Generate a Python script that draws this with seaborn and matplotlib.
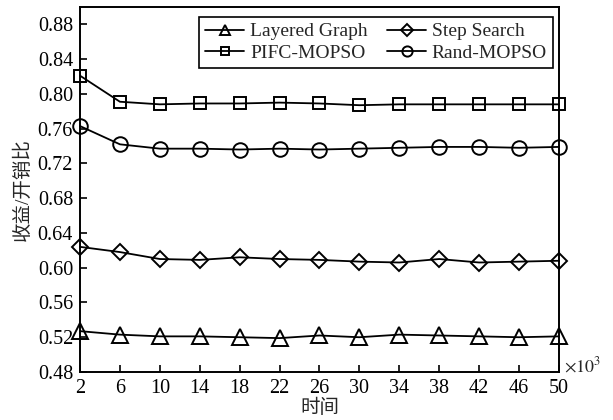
import matplotlib
matplotlib.use('Agg')
import matplotlib.pyplot as plt
import pandas as pd
import seaborn as sns

# time in units of 10^3
time_k = [2, 6, 10, 14, 18, 22, 26, 30, 34, 38, 42, 46, 50]

layered_graph = [0.527, 0.523, 0.521, 0.521, 0.520, 0.519, 0.522, 0.520, 0.523, 0.522, 0.521, 0.520, 0.521]
step_search = [0.624, 0.618, 0.610, 0.609, 0.612, 0.610, 0.609, 0.607, 0.606, 0.610, 0.606, 0.607, 0.608]
pifc_mopso = [0.821, 0.791, 0.788, 0.789, 0.789, 0.790, 0.789, 0.787, 0.788, 0.788, 0.788, 0.788, 0.788]
rand_mopso = [0.763, 0.742, 0.737, 0.737, 0.736, 0.737, 0.736, 0.737, 0.738, 0.739, 0.739, 0.738, 0.739]

y_ticks = [0.48, 0.52, 0.56, 0.60, 0.64, 0.68, 0.72, 0.76, 0.80, 0.84, 0.88]

df = pd.DataFrame({
    'time': time_k,
    'Layered Graph': layered_graph,
    'Step Search': step_search,
    'PIFC-MOPSO': pifc_mopso,
    'Rand-MOPSO': rand_mopso,
})

sns.set_style('ticks')
plt.rcParams['font.family'] = ['Liberation Serif', 'Noto Sans CJK SC']
plt.rcParams['mathtext.fontset'] = 'stix'

fig = plt.figure(figsize=(6.13, 4.2), dpi=100)
ax = fig.add_axes([0.1305, 0.1143, 0.7814, 0.869])

# legend order: column-wise fill gives rows (LG, SS) / (PIFC, Rand)
series = [('Layered Graph', '^'), ('PIFC-MOPSO', 's'),
          ('Step Search', 'D'), ('Rand-MOPSO', 'o')]
sizes = {'^': 11, 's': 9, 'D': 8.5, 'o': 10.5}
for name, mk in series:
    sns.lineplot(data=df, x='time', y=name, ax=ax, label=name,
                 color='black', linewidth=1.3, marker=mk,
                 markersize=sizes[mk], markerfacecolor='none',
                 markeredgecolor='black', markeredgewidth=1.4,
                 clip_on=False, zorder=3)

ax.set_xlim(2, 50)
ax.set_ylim(0.48, 0.90)
ax.set_xticks(time_k)
ax.set_yticks(y_ticks)
ax.set_yticklabels([f'{v:.2f}' for v in y_ticks])

for s in ax.spines.values():
    s.set_linewidth(1.4)
    s.set_color('black')
ax.tick_params(direction='in', length=5, width=1.2, labelsize=14.5,
               colors='black')
ax.tick_params(axis='x', pad=5)
ax.tick_params(axis='y', pad=5)

ax.set_xlabel('时间', fontsize=14, labelpad=0.5)
ax.set_ylabel('收益/开销比', fontsize=14, labelpad=4)
ax.text(1.01, 0.015, r'$\times 10^3$', transform=ax.transAxes,
        fontsize=13, ha='left', va='center')

leg = ax.legend(ncol=2, loc='upper right', bbox_to_anchor=(0.987, 0.973),
                fontsize=14, frameon=True,
                fancybox=False, edgecolor='black', framealpha=1,
                markerscale=0.7, handlelength=2.0, handletextpad=0.3,
                columnspacing=1.0, labelspacing=0.2, borderpad=0.3,
                borderaxespad=0)
leg.get_frame().set_linewidth(1.2)

fig.savefig('out.png', dpi=100)
